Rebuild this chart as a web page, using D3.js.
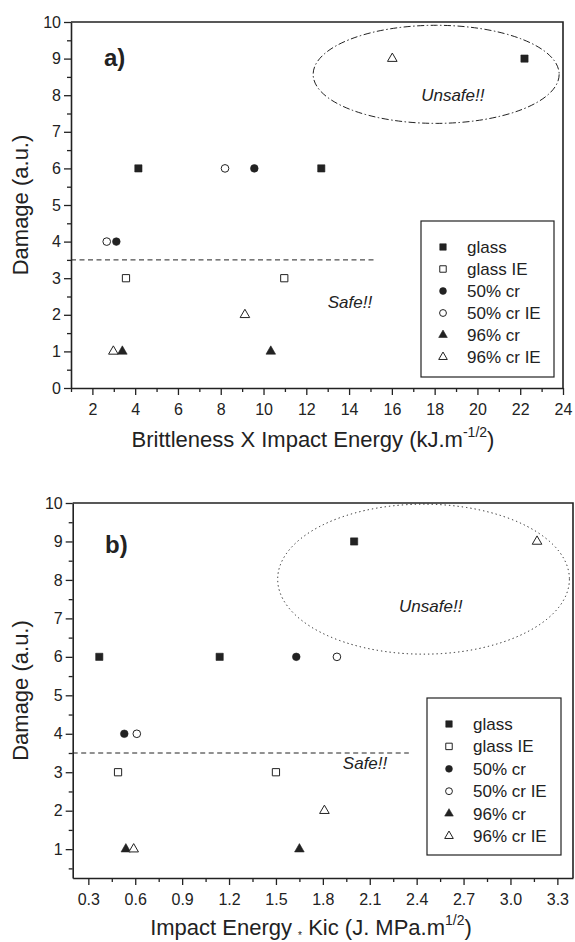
<!DOCTYPE html>
<html>
<head>
<meta charset="utf-8">
<script src="https://cdn.jsdelivr.net/npm/d3@7"></script>
<style>
  body { margin: 0; background: #fff; }
  svg { display: block; font-family: "Liberation Sans", Arial, sans-serif; }
</style>
</head>
<body>
<svg id="chart" width="575" height="942"></svg>
<script>
// Legend / series (same six series in both panels)
const seriesNames = ['glass', 'glass IE', '50% cr', '50% cr IE', '96% cr', '96% cr IE'];
const seriesShapes = ['square', 'square', 'circle', 'circle', 'triangle', 'triangle'];
const seriesFilled = [true, false, true, false, true, false];

// Panel a) Brittleness X Impact Energy (kJ.m^-1/2) vs Damage
const aGlass     = [[4.15, 6], [12.7, 6], [22.2, 9]];
const aGlassIE   = [[3.57, 3], [10.97, 3]];
const aCr50      = [[9.57, 6], [3.12, 4]];
const aCr50IE    = [[8.2, 6], [2.67, 4]];
const aCr96      = [[3.4, 1], [10.34, 1]];
const aCr96IE    = [[2.98, 1], [9.13, 2], [16.02, 9]];
const aXTicks = [2, 4, 6, 8, 10, 12, 14, 16, 18, 20, 22, 24];
const aYTicks = [0, 1, 2, 3, 4, 5, 6, 7, 8, 9, 10];
const aSafeLine = [[1, 3.5], [15.3, 3.5]];
const aUnsafeZone = [18.07, 8.57, 5.75, 1.34]; // cx, cy, rx, ry in data units

// Panel b) Impact Energy * Kic (J. MPa.m^1/2) vs Damage
const bGlass     = [[0.37, 6], [1.14, 6], [2.0, 9]];
const bGlassIE   = [[0.49, 3], [1.5, 3]];
const bCr50      = [[0.53, 4], [1.63, 6]];
const bCr50IE    = [[0.61, 4], [1.89, 6]];
const bCr96      = [[0.54, 1], [1.65, 1]];
const bCr96IE    = [[0.59, 1], [1.81, 2], [3.17, 9]];
const bXTicks = [0.3, 0.6, 0.9, 1.2, 1.5, 1.8, 2.1, 2.4, 2.7, 3.0, 3.3];
const bYTicks = [1, 2, 3, 4, 5, 6, 7, 8, 9, 10];
const bSafeLine = [[0.2, 3.5], [2.35, 3.5]];
const bUnsafeZone = [2.444, 8.02, 0.933, 1.95];

const INK = '#222';
const svg = d3.select('#chart');

const panels = [
  {
    label: 'a)', series: [aGlass, aGlassIE, aCr50, aCr50IE, aCr96, aCr96IE],
    left: 71, right: 563, top: 22, bottom: 388,
    xDomain: [1, 24], yDomain: [0, 10],
    xTicks: aXTicks, xMinor: d3.range(1, 24, 2), xFmt: d3.format('d'),
    yTicks: aYTicks, yMinor: d3.range(0.5, 10, 1),
    safeLine: aSafeLine, zone: aUnsafeZone, zoneDash: '7,2.5,1.5,2.5',
    unsafeAt: [18.85, 7.83], safeAt: [14.04, 2.19],
    legend: { x: 421, y: 221, w: 133, h: 156, row0: 247, step: 22 },
    labelAt: [104, 66],
    xTitle: ['Brittleness X Impact Energy (kJ.m', '-1/2', ')'], xTitleX: 313, xTitleY: 447
  },
  {
    label: 'b)', series: [bGlass, bGlassIE, bCr50, bCr50IE, bCr96, bCr96IE],
    left: 72.7, right: 573, top: 503, bottom: 878,
    xDomain: [0.2, 3.4], yDomain: [0.25, 10],
    xTicks: bXTicks, xMinor: d3.range(0.45, 3.3, 0.3), xFmt: d3.format('.1f'),
    yTicks: bYTicks, yMinor: d3.range(0.5, 10, 1),
    safeLine: bSafeLine, zone: bUnsafeZone, zoneDash: '1.3,3',
    unsafeAt: [2.49, 7.17], safeAt: [2.07, 3.08],
    legend: { x: 427, y: 698, w: 134, h: 157, row0: 724, step: 22.4 },
    labelAt: [105, 553],
    xTitle: ['Impact Energy ', '*', ' Kic (J. MPa.m', '1/2', ')'], xTitleX: 311, xTitleY: 935
  }
];

function symbolPath(shape, scale) {
  const type = shape === 'square' ? d3.symbolSquare : shape === 'circle' ? d3.symbolCircle : d3.symbolTriangle;
  const size = shape === 'square' ? 52 : shape === 'circle' ? 46 : 40;
  return d3.symbol().type(type).size(size * scale)();
}

function drawMarker(g, shape, filled, cx, cy, scale) {
  g.append('path')
    .attr('d', symbolPath(shape, scale))
    .attr('transform', `translate(${cx},${cy})`)
    .attr('fill', filled ? INK : '#fff')
    .attr('stroke', INK)
    .attr('stroke-width', filled ? 0.6 : 1);
}

function drawPanel(p) {
  const g = svg.append('g');
  const x = d3.scaleLinear().domain(p.xDomain).range([p.left, p.right]);
  const y = d3.scaleLinear().domain(p.yDomain).range([p.bottom, p.top]);

  // minor ticks
  g.append('g').attr('transform', `translate(0,${p.bottom})`)
    .call(d3.axisBottom(x).tickValues(p.xMinor).tickSize(4).tickFormat(''))
    .call(s => s.select('.domain').remove());
  g.append('g').attr('transform', `translate(${p.left},0)`)
    .call(d3.axisLeft(y).tickValues(p.yMinor).tickSize(4).tickFormat(''))
    .call(s => s.select('.domain').remove());

  // major axes
  g.append('g').attr('transform', `translate(0,${p.bottom})`)
    .call(d3.axisBottom(x).tickValues(p.xTicks).tickSize(7).tickPadding(9).tickFormat(p.xFmt).tickSizeOuter(0));
  g.append('g').attr('transform', `translate(${p.left},0)`)
    .call(d3.axisLeft(y).tickValues(p.yTicks).tickSize(7).tickPadding(3).tickFormat(d3.format('d')).tickSizeOuter(0));

  g.selectAll('.tick line').attr('stroke', INK).attr('stroke-width', 1.3);
  g.selectAll('.domain').attr('stroke', INK).attr('stroke-width', 1.6);
  g.selectAll('.tick text').attr('font-size', 16).attr('fill', INK)
    .attr('font-family', '"Liberation Sans", Arial, sans-serif');

  // top + right frame
  g.append('path')
    .attr('d', `M${p.left},${p.top}H${p.right}V${p.bottom}`)
    .attr('fill', 'none').attr('stroke', INK).attr('stroke-width', 1.6);

  // safe threshold
  g.append('line')
    .attr('x1', x(p.safeLine[0][0])).attr('y1', y(p.safeLine[0][1]))
    .attr('x2', x(p.safeLine[1][0])).attr('y2', y(p.safeLine[1][1]))
    .attr('stroke', INK).attr('stroke-width', 1).attr('stroke-dasharray', '5,3.5');

  // unsafe zone
  const [zcx, zcy, zrx, zry] = p.zone;
  g.append('ellipse')
    .attr('cx', x(zcx)).attr('cy', y(zcy))
    .attr('rx', x(zcx + zrx) - x(zcx)).attr('ry', y(zcy) - y(zcy + zry))
    .attr('fill', 'none').attr('stroke', INK).attr('stroke-width', 1)
    .attr('stroke-dasharray', p.zoneDash);

  g.append('text').attr('x', x(p.unsafeAt[0])).attr('y', y(p.unsafeAt[1]))
    .attr('text-anchor', 'middle').attr('font-size', 17).attr('font-style', 'italic')
    .attr('fill', INK).text('Unsafe!!');
  g.append('text').attr('x', x(p.safeAt[0])).attr('y', y(p.safeAt[1]))
    .attr('text-anchor', 'middle').attr('font-size', 17).attr('font-style', 'italic')
    .attr('fill', INK).text('Safe!!');

  // data points
  p.series.forEach((pts, i) => {
    pts.forEach(d => drawMarker(g, seriesShapes[i], seriesFilled[i], x(d[0]), y(d[1]), 1));
  });

  // legend
  const L = p.legend;
  g.append('rect').attr('x', L.x).attr('y', L.y).attr('width', L.w).attr('height', L.h)
    .attr('fill', '#fff').attr('stroke', INK).attr('stroke-width', 1.2);
  seriesNames.forEach((name, i) => {
    const cy = L.row0 + i * L.step;
    drawMarker(g, seriesShapes[i], seriesFilled[i], L.x + 22, cy, 0.8);
    g.append('text').attr('x', L.x + 46).attr('y', cy + 6)
      .attr('font-size', 17).attr('fill', INK).text(name);
  });

  // panel label
  g.append('text').attr('x', p.labelAt[0]).attr('y', p.labelAt[1])
    .attr('font-size', 24).attr('font-weight', 'bold').attr('fill', INK).text(p.label);

  // y title
  g.append('text')
    .attr('transform', `translate(28,${(p.top + p.bottom) / 2}) rotate(-90)`)
    .attr('text-anchor', 'middle').attr('font-size', 22).attr('fill', INK)
    .text('Damage (a.u.)');

  // x title
  const xt = g.append('text').attr('x', p.xTitleX).attr('y', p.xTitleY)
    .attr('text-anchor', 'middle').attr('font-size', 22).attr('fill', INK);
  if (p.xTitle.length === 3) {
    xt.append('tspan').text(p.xTitle[0]);
    xt.append('tspan').attr('font-size', 14).attr('dy', -10).text(p.xTitle[1]);
    xt.append('tspan').attr('dy', 10).text(p.xTitle[2]);
  } else {
    xt.append('tspan').text(p.xTitle[0]);
    xt.append('tspan').attr('font-size', 10).attr('dy', 4).text(p.xTitle[1]);
    xt.append('tspan').attr('dy', -4).text(p.xTitle[2]);
    xt.append('tspan').attr('font-size', 14).attr('dy', -10).text(p.xTitle[3]);
    xt.append('tspan').attr('dy', 10).text(p.xTitle[4]);
  }
}

panels.forEach(drawPanel);
</script>
</body>
</html>
